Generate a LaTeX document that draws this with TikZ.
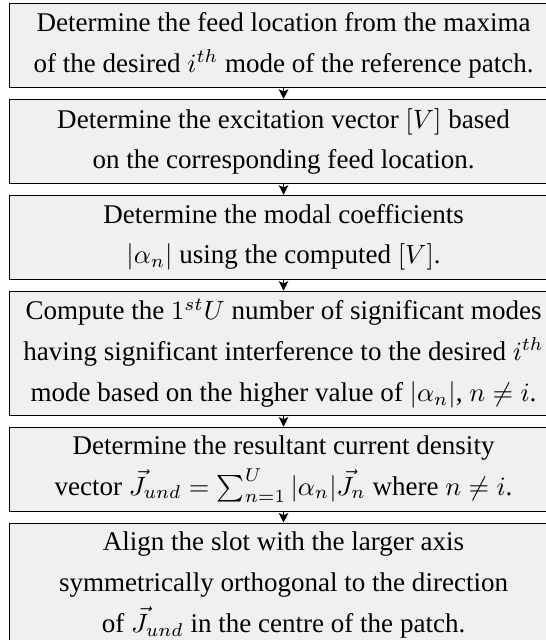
\documentclass[tikz,border=0pt]{standalone}
\usepackage{fontspec}
\setmainfont{Liberation Serif}
\usetikzlibrary{positioning,arrows.meta}
\definecolor{stepfill}{RGB}{240,240,240}
\begin{document}
\begin{tikzpicture}[x=1pt, y=1pt,
    stepbox/.style={draw=black, fill=stepfill, line width=0.4pt,
      minimum width=206.8pt, inner xsep=0pt, inner ysep=0pt, align=center,
      font=\fontsize{10.2}{15.4}\selectfont},
    twoline/.style={minimum height=31.7pt},
    threeline/.style={minimum height=46.8pt},
    flow/.style={-{Stealth[length=3.6pt, width=3.6pt, inset=0.8pt]}, line width=0.5pt},
    node distance=4.1pt]
  \useasboundingbox (0,0) rectangle (206,-241.5);

  % Steps of the procedure, top to bottom
  \node[stepbox, twoline, anchor=north west] (feed) at (3.4,-1.1)
    {Determine the feed location from the maxima\\
     of the desired $i^{th}$ mode of the reference patch.};
  \node[stepbox, twoline, below=of feed] (excite)
    {Determine the excitation vector $[V]$ based\\
     on the corresponding feed location.};
  \node[stepbox, twoline, below=of excite] (coeff)
    {Determine the modal coefficients\\
     $|\alpha_n|$ using the computed $[V]$.};
  \node[stepbox, threeline, below=of coeff] (modes)
    {Compute the $1^{st}U$ number of significant modes\\
     having significant interference to the desired $i^{th}$\\
     mode based on the higher value of $|\alpha_n|$, $n \neq i$.};
  \node[stepbox, twoline, below=of modes] (jund)
    {Determine the resultant current density\\
     vector $\vec{J}_{und} = \sum_{n=1}^{U} |\alpha_n| \vec{J}_n$ where $n \neq i$.};
  \node[stepbox, threeline, below=of jund] (slot)
    {Align the slot with the larger axis\\
     symmetrically orthogonal to the direction\\
     of $\vec{J}_{und}$ in the centre of the patch.};

  % Arrows between the steps
  \draw[flow] (feed) -- (excite);
  \draw[flow] (excite) -- (coeff);
  \draw[flow] (coeff) -- (modes);
  \draw[flow] (modes) -- (jund);
  \draw[flow] (jund) -- (slot);
\end{tikzpicture}
\end{document}
